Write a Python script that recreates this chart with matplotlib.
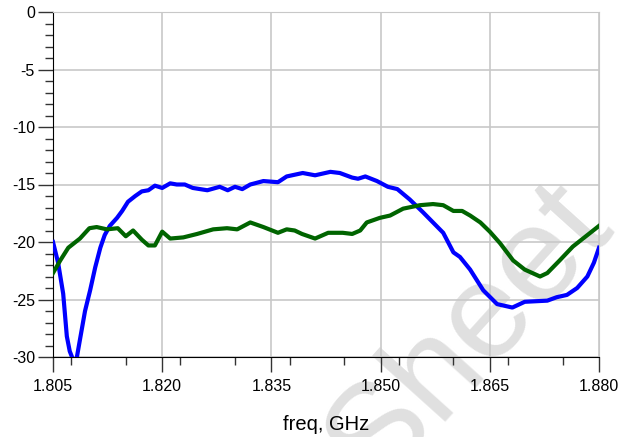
import numpy as np
import matplotlib
matplotlib.use("Agg")
from matplotlib import pyplot as plt
from matplotlib.ticker import MultipleLocator

plt.rcParams['font.family'] = ['Liberation Sans', 'DejaVu Sans']
plt.rcParams['axes.unicode_minus'] = False

# blue trace (dB vs GHz)
freqBlue = [1.8050, 1.8057, 1.8064, 1.8069, 1.8073, 1.8078, 1.8082, 1.8087,
            1.8094, 1.8101, 1.8108, 1.8115, 1.8121, 1.8128, 1.8138, 1.8145,
            1.8153, 1.8163, 1.8172, 1.8181, 1.8190, 1.8200, 1.8211, 1.8220,
            1.8231, 1.8242, 1.8262, 1.8279, 1.8290, 1.8300, 1.8310, 1.8321,
            1.8339, 1.8359, 1.8371, 1.8393, 1.8410, 1.8431, 1.8444, 1.8461,
            1.8469, 1.8479, 1.8495, 1.8510, 1.8523, 1.8540, 1.8558, 1.8572,
            1.8586, 1.8600, 1.8609, 1.8623, 1.8641, 1.8660, 1.8681, 1.8698,
            1.8729, 1.8742, 1.8756, 1.8770, 1.8784, 1.8793, 1.8800]
s_blue = [-20.0, -21.8, -24.5, -28.2, -29.5, -30.3, -30.3, -28.5,
          -26.0, -24.2, -22.2, -20.5, -19.4, -18.6, -17.9, -17.3,
          -16.5, -16.0, -15.6, -15.5, -15.1, -15.3, -14.9, -15.0,
          -15.0, -15.3, -15.5, -15.2, -15.5, -15.2, -15.4, -15.0,
          -14.7, -14.8, -14.3, -14.0, -14.2, -13.9, -14.0, -14.4,
          -14.5, -14.3, -14.7, -15.2, -15.4, -16.3, -17.4, -18.3,
          -19.2, -20.9, -21.3, -22.4, -24.2, -25.4, -25.7, -25.2,
          -25.1, -24.8, -24.6, -24.0, -23.0, -21.8, -20.5]

# green trace
freqGreen = [1.8050, 1.8060, 1.8071, 1.8087, 1.8100, 1.8110, 1.8124, 1.8139,
             1.8150, 1.8160, 1.8172, 1.8181, 1.8190, 1.8200, 1.8211, 1.8229,
             1.8248, 1.8270, 1.8289, 1.8303, 1.8321, 1.8339, 1.8359, 1.8371,
             1.8382, 1.8392, 1.8410, 1.8428, 1.8448, 1.8461, 1.8472, 1.8481,
             1.8499, 1.8513, 1.8531, 1.8554, 1.8572, 1.8586, 1.8600, 1.8612,
             1.8623, 1.8637, 1.8650, 1.8664, 1.8682, 1.8698, 1.8719, 1.8729,
             1.8746, 1.8764, 1.8784, 1.8800]
s_green = [-22.7, -21.6, -20.5, -19.7, -18.8, -18.7, -18.9, -18.8,
           -19.5, -19.0, -19.8, -20.3, -20.3, -19.1, -19.7, -19.6,
           -19.3, -18.9, -18.8, -18.9, -18.3, -18.7, -19.2, -18.9,
           -19.0, -19.3, -19.7, -19.2, -19.2, -19.3, -19.0, -18.3,
           -17.9, -17.7, -17.1, -16.8, -16.7, -16.8, -17.3, -17.3,
           -17.7, -18.3, -19.1, -20.1, -21.6, -22.4, -23.0, -22.7,
           -21.6, -20.4, -19.4, -18.6]

xticks = [1.805, 1.820, 1.835, 1.850, 1.865, 1.880]
yticks = [0, -5, -10, -15, -20, -25, -30]

fig = plt.figure(figsize=(6.38, 4.37), dpi=100)
ax = fig.add_axes([53/638, 1-357/437, 546/638, 345/437])

# watermark, behind the traces
ax.text(470/638, 1-335/437, "Sheet", transform=fig.transFigure, fontsize=98,
        color='#e0e0e0', rotation=48, ha='center', va='center',
        rotation_mode='anchor', zorder=1, clip_on=False)

ax.plot(freqBlue, s_blue, color='#0000ff', lw=3, zorder=3, solid_joinstyle='round')
ax.plot(freqGreen, s_green, color='#006400', lw=3, zorder=3, solid_joinstyle='round')

ax.set_xlim(1.805, 1.880)
ax.set_ylim(-30, 0)
ax.set_xticks(xticks)
ax.set_xticklabels(["%.3f" % t for t in xticks])
ax.set_yticks(yticks)
ax.xaxis.set_minor_locator(MultipleLocator(0.0075))
ax.yaxis.set_minor_locator(MultipleLocator(1))
ax.grid(True, which='major', color='#c8c8c8', lw=1.2, zorder=1.5)
ax.tick_params(which='major', length=11, width=1, labelsize=11.5, color='#333333')
ax.tick_params(axis='x', which='major', pad=5)
ax.tick_params(axis='y', which='major', pad=2)
ax.tick_params(which='minor', length=6, width=1, color='#333333')
for side in ['top', 'right']:
    ax.spines[side].set_color('#c8c8c8')
for side in ['left', 'bottom']:
    ax.spines[side].set_color('black')

ax.set_xlabel("freq, GHz", fontsize=14.5, labelpad=15)

fig.savefig("out.png", dpi=100)
